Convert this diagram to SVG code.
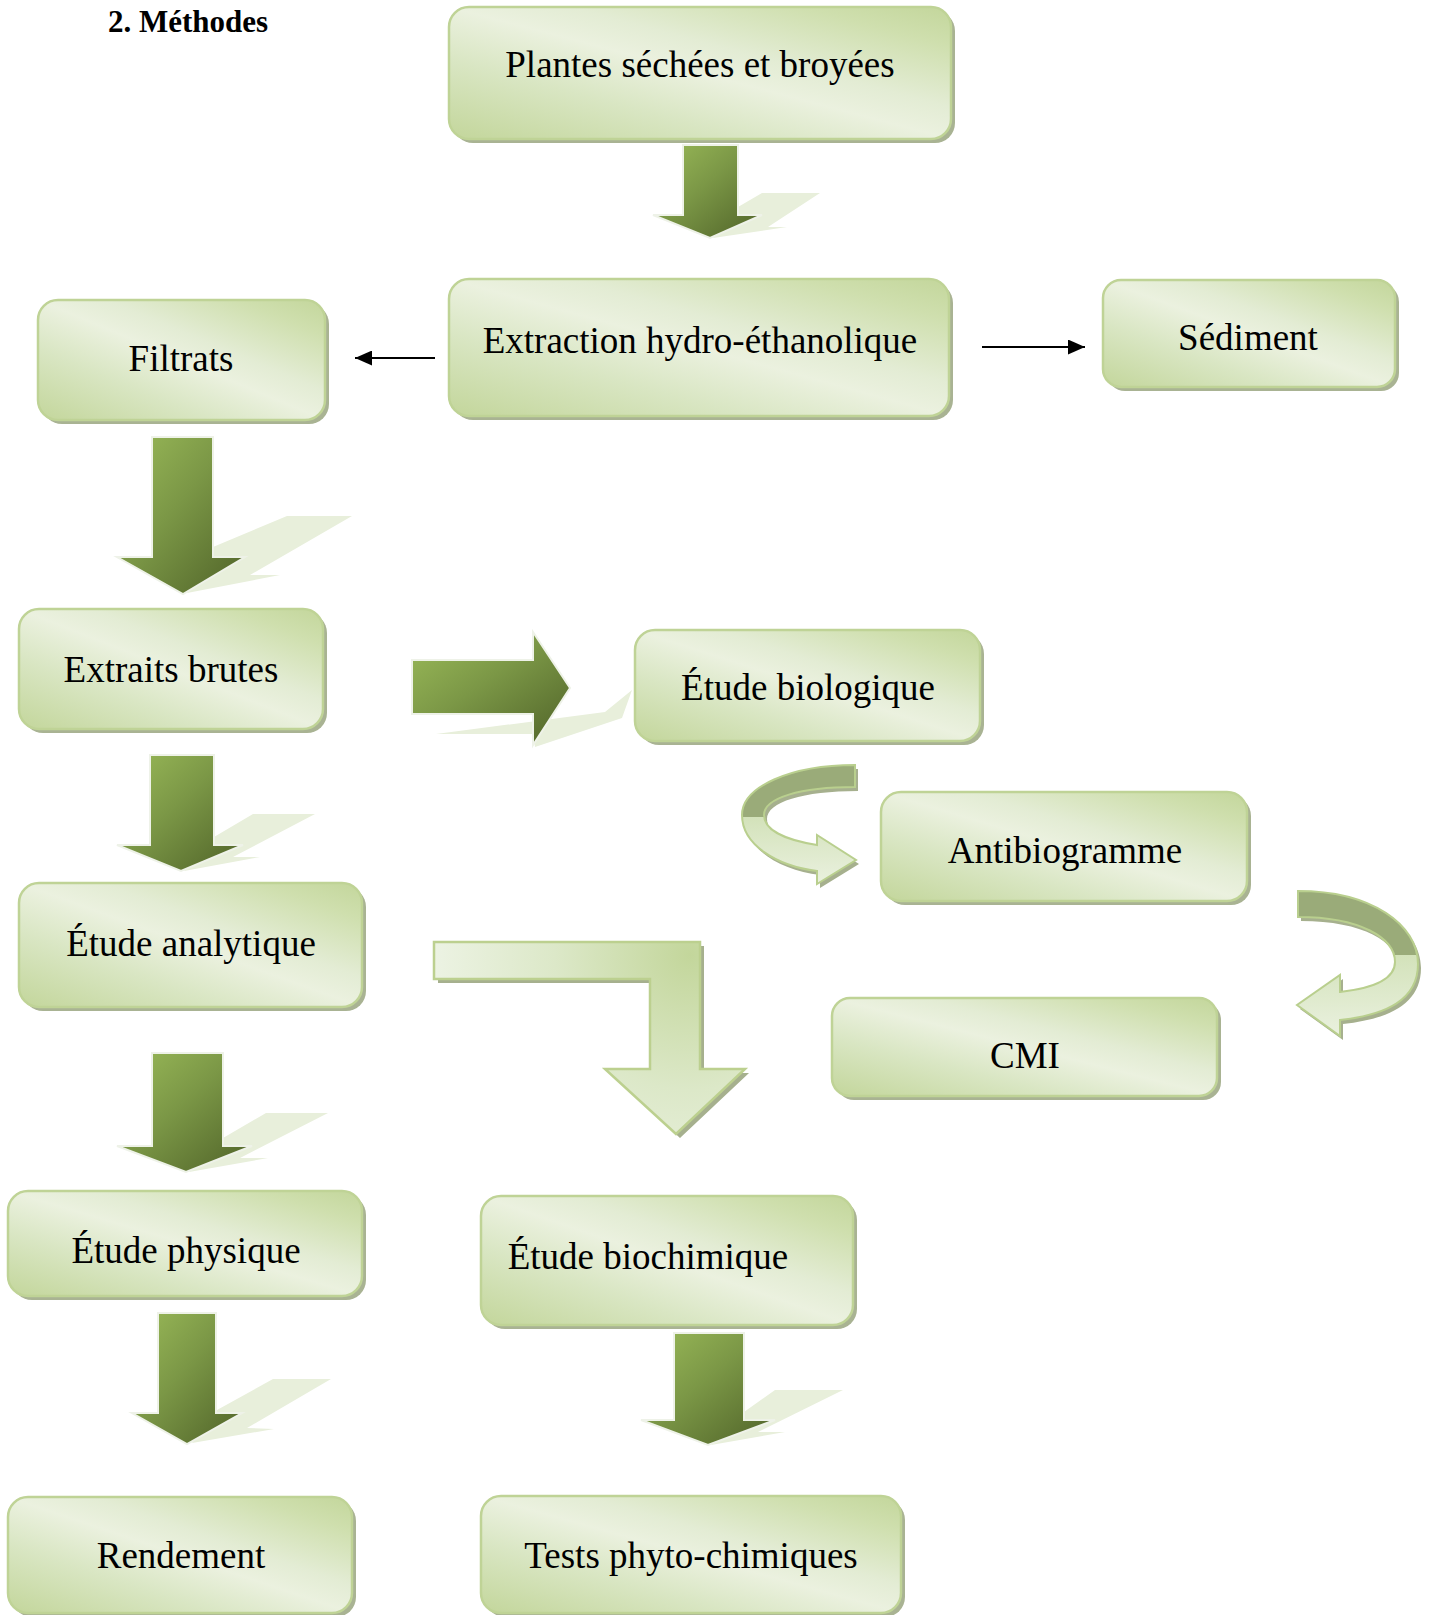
<svg xmlns="http://www.w3.org/2000/svg" width="1429" height="1615" viewBox="0 0 1429 1615">
<style>
  .lbl { font-family: "Liberation Serif", "Times New Roman", serif; font-size: 37px; fill: #000; text-anchor: middle; }
  .title { font-family: "Liberation Serif", "Times New Roman", serif; font-size: 31px; font-weight: bold; fill: #000; }
  .box { fill: url(#boxGrad); stroke: #bfd396; stroke-width: 2.5; }
  .boxsh { fill: #a9b393; }
  .dark { fill: url(#darkGrad); stroke: #eef2e8; stroke-width: 2; }
  .dsh { fill: #e8efdb; }
  .thin { stroke: #000; stroke-width: 2; fill: none; marker-end: url(#tri); }
  .lightsh { fill: #a6b08e; }
</style>
<defs>
  <linearGradient id="boxGrad" x1="0" y1="1" x2="1" y2="0">
    <stop offset="0" stop-color="#c3d69b"/>
    <stop offset="0.3" stop-color="#d9e6c3"/>
    <stop offset="0.5" stop-color="#ebf1df"/>
    <stop offset="0.62" stop-color="#e3ecd4"/>
    <stop offset="0.85" stop-color="#cfdfae"/>
    <stop offset="1" stop-color="#c3d69b"/>
  </linearGradient>
  <linearGradient id="darkGrad" x1="0" y1="0" x2="1" y2="1">
    <stop offset="0" stop-color="#9bbb59"/>
    <stop offset="0.45" stop-color="#7b9746"/>
    <stop offset="1" stop-color="#4f6228"/>
  </linearGradient>
  <radialGradient id="bentGrad" gradientUnits="userSpaceOnUse" cx="690" cy="955" r="270">
    <stop offset="0" stop-color="#c3d69b"/>
    <stop offset="0.5" stop-color="#dce8c8"/>
    <stop offset="1" stop-color="#eef4e6"/>
  </radialGradient>
  <linearGradient id="curveGrad" x1="0" y1="0" x2="0" y2="1">
    <stop offset="0" stop-color="#9aab79"/>
    <stop offset="0.44" stop-color="#9aab79"/>
    <stop offset="0.44" stop-color="#d3e2ba"/>
    <stop offset="1" stop-color="#eaf1df"/>
  </linearGradient>
  <marker id="tri" markerUnits="userSpaceOnUse" markerWidth="17" markerHeight="15" refX="17" refY="7.5" orient="auto">
    <path d="M0,0 L17,7.5 L0,15 Z" fill="#000"/>
  </marker>
</defs>

<rect width="1429" height="1615" fill="#fff"/>

<text class="title" x="108" y="32">2. Méthodes</text>

<g id="connectors">
  <g id="arrow-plantes-extraction">
    <polygon class="dsh" points="738,207 762,193 820,193 768,227 787,227 713,238"/>
    <polygon class="dark" points="683,145 738,145 738,215 762,215 710,238 653,215 683,215"/>
  </g>
  <g id="arrow-filtrats-extraits">
    <polygon class="dsh" points="213,547 287,516 352,516 250,575 280,575 187,593"/>
    <polygon class="dark" points="152,437 213,437 213,557 245,557 183,594 117,557 152,557"/>
  </g>
  <g id="arrow-extraits-analytique">
    <polygon class="dsh" points="214,837 253,814 315,814 233,857 260,857 184,871"/>
    <polygon class="dark" points="150,755 214,755 214,845 243,845 181,871 117,845 150,845"/>
  </g>
  <g id="arrow-analytique-physique">
    <polygon class="dsh" points="223,1138 266,1113 328,1113 240,1158 268,1158 189,1172"/>
    <polygon class="dark" points="152,1053 223,1053 223,1146 252,1146 186,1172 117,1146 152,1146"/>
  </g>
  <g id="arrow-physique-rendement">
    <polygon class="dsh" points="217,1410 273,1379 331,1379 247,1428 274,1429 192,1443"/>
    <polygon class="dark" points="158,1313 216,1313 216,1413 242,1413 187,1444 132,1413 158,1413"/>
  </g>
  <g id="arrow-biochimique-tests">
    <polygon class="dsh" points="744,1412 775,1390 843,1390 758,1432 785,1432 711,1445"/>
    <polygon class="dark" points="674,1333 744,1333 744,1420 775,1420 708,1445 641,1420 674,1420"/>
  </g>
  <g id="arrow-extraits-biologique">
    <polygon class="dsh" points="436,734 605,712 632,690 622,718 535,747 533,734"/>
    <polygon class="dark" points="412,660 533,660 533,632 570,688 533,745 533,714 412,714"/>
  </g>

  <line id="arrow-extraction-filtrats" class="thin" x1="435" y1="358" x2="355" y2="358"/>
  <line id="arrow-extraction-sediment" class="thin" x1="982" y1="347" x2="1085" y2="347"/>

  <g id="arrow-analytique-biochimique">
    <polygon class="lightsh" transform="translate(4,4)" points="434,942 700,942 700,1069 745,1069 676,1134 605,1069 650,1069 650,979 434,979"/>
    <polygon fill="url(#bentGrad)" stroke="#bcd08f" stroke-width="2.5" points="434,942 700,942 700,1069 745,1069 676,1134 605,1069 650,1069 650,979 434,979"/>
  </g>

  <g id="arrow-biologique-antibiogramme">
    <path class="lightsh" transform="translate(3,4)" d="M855,765 C790,765 742,787 742,815 C742,845 777,866 817,871 L817,884 L856,860 L817,835 L817,845 C785,840 764,830 764,815 C764,798 800,787 855,787 Z"/>
    <path fill="url(#curveGrad)" stroke="#b9cf8e" stroke-width="2" d="M855,765 C790,765 742,787 742,815 C742,845 777,866 817,871 L817,884 L856,860 L817,835 L817,845 C785,840 764,830 764,815 C764,798 800,787 855,787 Z"/>
  </g>
  <g id="arrow-antibiogramme-cmi">
    <path class="lightsh" transform="translate(3,4)" d="M1298,891 C1372,891 1418,925 1418,964 C1418,1000 1386,1015 1340,1020 L1340,1036 L1297,1005 L1340,975 L1340,992 C1375,988 1395,978 1395,962 C1395,938 1360,917 1298,917 Z"/>
    <path fill="url(#curveGrad)" stroke="#b9cf8e" stroke-width="2" d="M1298,891 C1372,891 1418,925 1418,964 C1418,1000 1386,1015 1340,1020 L1340,1036 L1297,1005 L1340,975 L1340,992 C1375,988 1395,978 1395,962 C1395,938 1360,917 1298,917 Z"/>
  </g>
</g>

<g id="node-plantes">
  <rect class="boxsh" x="453" y="11" width="502" height="132" rx="20"/>
  <rect class="box" x="449" y="7" width="502" height="132" rx="20"/>
  <text class="lbl" x="700" y="77">Plantes séchées et broyées</text>
</g>
<g id="node-extraction">
  <rect class="boxsh" x="453" y="283" width="500" height="137" rx="20"/>
  <rect class="box" x="449" y="279" width="500" height="137" rx="20"/>
  <text class="lbl" x="700" y="353">Extraction hydro-éthanolique</text>
</g>
<g id="node-sediment">
  <rect class="boxsh" x="1107" y="284" width="292" height="107" rx="18"/>
  <rect class="box" x="1103" y="280" width="292" height="107" rx="18"/>
  <text class="lbl" x="1248" y="350">Sédiment</text>
</g>
<g id="node-filtrats">
  <rect class="boxsh" x="42" y="304" width="287" height="120" rx="20"/>
  <rect class="box" x="38" y="300" width="287" height="120" rx="20"/>
  <text class="lbl" x="181" y="371">Filtrats</text>
</g>
<g id="node-extraits">
  <rect class="boxsh" x="23" y="613" width="304" height="120" rx="20"/>
  <rect class="box" x="19" y="609" width="304" height="120" rx="20"/>
  <text class="lbl" x="171" y="682">Extraits brutes</text>
</g>
<g id="node-biologique">
  <rect class="boxsh" x="639" y="634" width="345" height="111" rx="20"/>
  <rect class="box" x="635" y="630" width="345" height="111" rx="20"/>
  <text class="lbl" x="808" y="700">Étude biologique</text>
</g>
<g id="node-antibiogramme">
  <rect class="boxsh" x="885" y="796" width="366" height="109" rx="20"/>
  <rect class="box" x="881" y="792" width="366" height="109" rx="20"/>
  <text class="lbl" x="1065" y="863">Antibiogramme</text>
</g>
<g id="node-cmi">
  <rect class="boxsh" x="836" y="1002" width="385" height="98" rx="18"/>
  <rect class="box" x="832" y="998" width="385" height="98" rx="18"/>
  <text class="lbl" x="1025" y="1068">CMI</text>
</g>
<g id="node-analytique">
  <rect class="boxsh" x="23" y="887" width="343" height="124" rx="20"/>
  <rect class="box" x="19" y="883" width="343" height="124" rx="20"/>
  <text class="lbl" x="191" y="956">Étude analytique</text>
</g>
<g id="node-physique">
  <rect class="boxsh" x="12" y="1195" width="354" height="105" rx="20"/>
  <rect class="box" x="8" y="1191" width="354" height="105" rx="20"/>
  <text class="lbl" x="186" y="1263">Étude physique</text>
</g>
<g id="node-biochimique">
  <rect class="boxsh" x="485" y="1200" width="372" height="129" rx="20"/>
  <rect class="box" x="481" y="1196" width="372" height="129" rx="20"/>
  <text class="lbl" x="648" y="1269">Étude biochimique</text>
</g>
<g id="node-rendement">
  <rect class="boxsh" x="12" y="1501" width="344" height="116" rx="20"/>
  <rect class="box" x="8" y="1497" width="344" height="116" rx="20"/>
  <text class="lbl" x="181" y="1568">Rendement</text>
</g>
<g id="node-tests">
  <rect class="boxsh" x="485" y="1500" width="420" height="117" rx="20"/>
  <rect class="box" x="481" y="1496" width="420" height="117" rx="20"/>
  <text class="lbl" x="691" y="1568">Tests phyto-chimiques</text>
</g>
</svg>
